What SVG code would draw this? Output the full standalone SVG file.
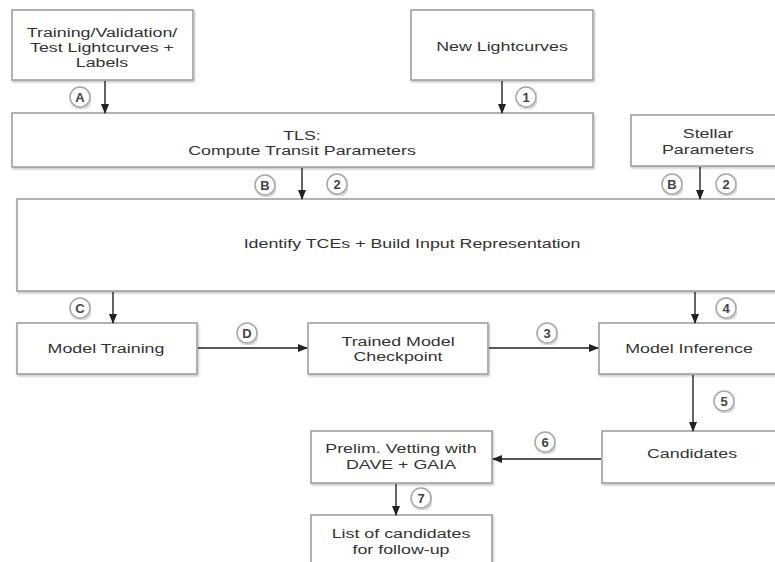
<svg xmlns="http://www.w3.org/2000/svg" width="775" height="562" viewBox="0 0 775 562">
<defs>
<marker id="ah" markerWidth="10" markerHeight="8" refX="9" refY="4" orient="auto" markerUnits="userSpaceOnUse">
<path d="M0,0 L10,4 L0,8 Z" fill="#222"/>
</marker>
<filter id="sh" x="-5%" y="-5%" width="110%" height="115%">
<feDropShadow dx="1" dy="1.5" stdDeviation="1" flood-color="#000" flood-opacity="0.25"/>
</filter>
</defs>
<style>
.box{fill:#fff;stroke:#9a9a9a;stroke-width:1.5;filter:url(#sh)}
.t{font-family:"Liberation Sans",Arial,sans-serif;font-size:13.5px;fill:#333;text-anchor:middle}
.c{fill:#fff;stroke:#a8a8a8;stroke-width:1.5;filter:url(#sh)}
.ct{font-family:"Liberation Sans",Arial,sans-serif;font-size:13px;font-weight:bold;fill:#444;text-anchor:middle}
.e{stroke:#222;stroke-width:1.4;fill:none;marker-end:url(#ah)}
</style>
<rect width="775" height="562" fill="#fff"/>

<g id="n-train-lc">
<rect class="box" x="12" y="10" width="181" height="70"/>
<text class="t" transform="translate(102,37) scale(1.32,1)">Training/Validation/</text>
<text class="t" transform="translate(102,52) scale(1.32,1)">Test Lightcurves +</text>
<text class="t" transform="translate(102,67) scale(1.32,1)">Labels</text>
</g>
<g id="n-new-lc">
<rect class="box" x="411" y="10" width="182" height="70"/>
<text class="t" transform="translate(502,51) scale(1.32,1)">New Lightcurves</text>
</g>
<g id="n-tls">
<rect class="box" x="12" y="113" width="581" height="54"/>
<text class="t" transform="translate(302,140) scale(1.32,1)">TLS:</text>
<text class="t" transform="translate(302,155) scale(1.32,1)">Compute Transit Parameters</text>
</g>
<g id="n-stellar">
<rect class="box" x="631" y="115" width="160" height="51"/>
<text class="t" transform="translate(708,138) scale(1.32,1)">Stellar</text>
<text class="t" transform="translate(708,154) scale(1.32,1)">Parameters</text>
</g>
<g id="n-identify">
<rect class="box" x="17" y="199" width="800" height="92"/>
<text class="t" transform="translate(412,248) scale(1.32,1)">Identify TCEs + Build Input Representation</text>
</g>
<g id="n-training">
<rect class="box" x="17" y="323" width="180" height="51"/>
<text class="t" transform="translate(106,353) scale(1.32,1)">Model Training</text>
</g>
<g id="n-checkpoint">
<rect class="box" x="308" y="323" width="180" height="51"/>
<text class="t" transform="translate(398,346) scale(1.32,1)">Trained Model</text>
<text class="t" transform="translate(398,361) scale(1.32,1)">Checkpoint</text>
</g>
<g id="n-inference">
<rect class="box" x="599" y="323" width="200" height="51"/>
<text class="t" transform="translate(689,353) scale(1.32,1)">Model Inference</text>
</g>
<g id="n-candidates">
<rect class="box" x="602" y="431" width="200" height="52"/>
<text class="t" transform="translate(692,458) scale(1.32,1)">Candidates</text>
</g>
<g id="n-vetting">
<rect class="box" x="311" y="431" width="181" height="52"/>
<text class="t" transform="translate(401,453) scale(1.32,1)">Prelim. Vetting with</text>
<text class="t" transform="translate(401,469) scale(1.32,1)">DAVE + GAIA</text>
</g>
<g id="n-list">
<rect class="box" x="311" y="515" width="181" height="60"/>
<text class="t" transform="translate(401,538) scale(1.32,1)">List of candidates</text>
<text class="t" transform="translate(401,554) scale(1.32,1)">for follow-up</text>
</g>

<g id="connectors">
<line class="e" x1="105" y1="81" x2="105" y2="113"/>
<line class="e" x1="502" y1="81" x2="502" y2="113"/>
<line class="e" x1="302" y1="168" x2="302" y2="199"/>
<line class="e" x1="700" y1="167" x2="700" y2="199"/>
<line class="e" x1="113" y1="292" x2="113" y2="323"/>
<line class="e" x1="695" y1="292" x2="695" y2="323"/>
<line class="e" x1="198" y1="348" x2="307" y2="348"/>
<line class="e" x1="489" y1="348" x2="598" y2="348"/>
<line class="e" x1="693" y1="375" x2="693" y2="431"/>
<line class="e" x1="601" y1="459" x2="493" y2="459"/>
<line class="e" x1="396" y1="484" x2="396" y2="515"/>
</g>

<g id="labels">
<circle class="c" cx="80" cy="97" r="10"/><text class="ct" x="80" y="101.5">A</text>
<circle class="c" cx="526" cy="97" r="10"/><text class="ct" x="526" y="101.5">1</text>
<circle class="c" cx="265" cy="185" r="10"/><text class="ct" x="265" y="189.5">B</text>
<circle class="c" cx="337" cy="184" r="10"/><text class="ct" x="337" y="188.5">2</text>
<circle class="c" cx="672" cy="184" r="10"/><text class="ct" x="672" y="188.5">B</text>
<circle class="c" cx="726" cy="184" r="10"/><text class="ct" x="726" y="188.5">2</text>
<circle class="c" cx="80" cy="308" r="10"/><text class="ct" x="80" y="312.5">C</text>
<circle class="c" cx="726" cy="308" r="10"/><text class="ct" x="726" y="312.5">4</text>
<circle class="c" cx="247" cy="333" r="10"/><text class="ct" x="247" y="337.5">D</text>
<circle class="c" cx="547" cy="333" r="10"/><text class="ct" x="547" y="337.5">3</text>
<circle class="c" cx="724" cy="401" r="10"/><text class="ct" x="724" y="405.5">5</text>
<circle class="c" cx="545" cy="442" r="10"/><text class="ct" x="545" y="446.5">6</text>
<circle class="c" cx="421" cy="498" r="10"/><text class="ct" x="421" y="502.5">7</text>
</g>
</svg>
